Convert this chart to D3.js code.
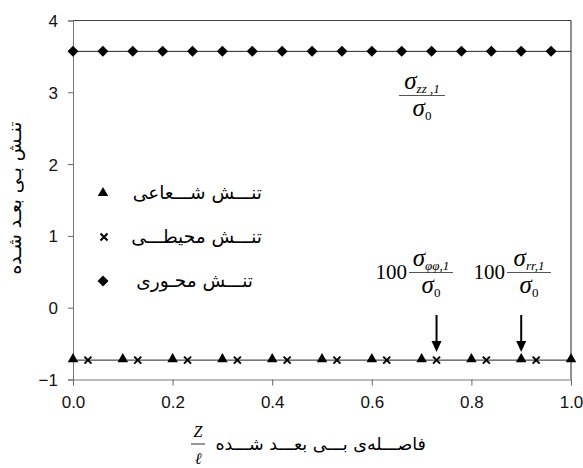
<!DOCTYPE html>
<html>
<head>
<meta charset="utf-8">
<script src="https://cdn.jsdelivr.net/npm/d3@7"></script>
<style>
  body { margin: 0; background: #fff; }
  svg { display: block; }
</style>
</head>
<body>
<svg width="583" height="468"></svg>
<script>
// radial stress (triangles), hoop stress (crosses), axial stress (diamonds)
const radialX = [0, 0.1, 0.2, 0.3, 0.4, 0.5, 0.6, 0.7, 0.8, 0.9, 1.0];
const radialY = [-0.73, -0.73, -0.73, -0.73, -0.73, -0.73, -0.73, -0.73, -0.73, -0.73, -0.73];
const hoopX = [0.03, 0.13, 0.23, 0.33, 0.43, 0.53, 0.63, 0.73, 0.83, 0.93];
const hoopY = [-0.73, -0.73, -0.73, -0.73, -0.73, -0.73, -0.73, -0.73, -0.73, -0.73];
const axialX = [0, 0.06, 0.12, 0.18, 0.24, 0.3, 0.36, 0.42, 0.48, 0.54, 0.6, 0.66, 0.72, 0.78, 0.84, 0.9, 0.96];
const axialY = [3.57, 3.57, 3.57, 3.57, 3.57, 3.57, 3.57, 3.57, 3.57, 3.57, 3.57, 3.57, 3.57, 3.57, 3.57, 3.57, 3.57];
const xTicks = [0, 0.2, 0.4, 0.6, 0.8, 1.0];
const yTicks = [-1, 0, 1, 2, 3, 4];
const legendLabels = ["تنـــش شـــعاعی", "تنـــش محیطـــی", "تنـــش محـوری"];
const arrowX = [0.73, 0.9];

const main = function() {
  const svg = d3.select("svg");
  const left = 73, right = 571, top = 20.5, bottom = 379.5;

  const x = d3.scaleLinear().domain([0, 1]).range([left, right]);
  const y = d3.scaleLinear().domain([-1, 4]).range([bottom, top]);

  // frame
  svg.append("line").attr("x1", left).attr("x2", right).attr("y1", top).attr("y2", top)
    .attr("stroke", "#444");
  svg.append("line").attr("x1", right).attr("x2", right).attr("y1", top).attr("y2", bottom)
    .attr("stroke", "#222");

  const xAxis = svg.append("g")
    .attr("transform", `translate(0,${bottom})`)
    .call(d3.axisBottom(x).tickValues(xTicks).tickFormat(d3.format(".1f")).tickSizeOuter(0).tickSize(6).tickPadding(10));
  const yAxis = svg.append("g")
    .attr("transform", `translate(${left},0)`)
    .call(d3.axisLeft(y).tickValues(yTicks).tickFormat(d3.format("d")).tickSizeOuter(0).tickSize(5).tickPadding(10));

  [xAxis, yAxis].forEach(a => {
    a.select(".domain").attr("stroke", "#777");
    a.selectAll(".tick line").attr("stroke", "#666");
    a.selectAll(".tick text")
      .attr("font-family", "Liberation Sans, Arial, sans-serif")
      .attr("font-size", 17)
      .attr("fill", "#111");
  });
  yAxis.selectAll(".tick text").attr("dy", "0.35em");

  // horizontal lines through the series
  const line = d3.line().x(d => x(d[0])).y(d => y(d[1]));
  svg.append("path")
    .attr("d", line([[0, radialY[0]], [1, radialY[radialY.length - 1]]]))
    .attr("stroke", "#222").attr("fill", "none");
  svg.append("path")
    .attr("d", line([[0, axialY[0]], [1, axialY[axialY.length - 1]]]))
    .attr("stroke", "#222").attr("fill", "none");

  const tri = d3.symbol().type(d3.symbolTriangle).size(48);
  const dia = "M0,-5.5L5.5,0L0,5.5L-5.5,0Z";
  const crossPath = "M-3.5,-3.5L3.5,3.5M-3.5,3.5L3.5,-3.5";

  svg.append("g").selectAll("path")
    .data(radialX.map((v, i) => [v, radialY[i]]))
    .join("path")
    .attr("d", tri)
    .attr("transform", d => `translate(${x(d[0])},${y(d[1]) - 1})`)
    .attr("fill", "#000");

  svg.append("g").selectAll("path")
    .data(hoopX.map((v, i) => [v, hoopY[i]]))
    .join("path")
    .attr("d", crossPath)
    .attr("transform", d => `translate(${x(d[0])},${y(d[1])})`)
    .attr("stroke", "#000").attr("stroke-width", 2);

  svg.append("g").selectAll("path")
    .data(axialX.map((v, i) => [v, axialY[i]]))
    .join("path")
    .attr("d", dia)
    .attr("transform", d => `translate(${x(d[0])},${y(d[1])})`)
    .attr("fill", "#000");

  // legend
  const legend = svg.append("g");
  const legendY = [193, 237, 281];
  legend.append("path").attr("d", tri).attr("transform", `translate(103,${legendY[0]})`).attr("fill", "#000");
  legend.append("path").attr("d", crossPath).attr("transform", `translate(104,${legendY[1]})`)
    .attr("stroke", "#000").attr("stroke-width", 2);
  legend.append("path").attr("d", dia).attr("transform", `translate(103,${legendY[2]})`).attr("fill", "#000");
  legend.selectAll("text")
    .data(legendLabels)
    .join("text")
    .attr("x", (d, i) => i === 2 ? 253 : 262)
    .attr("y", (d, i) => legendY[i])
    .attr("dy", "0.35em")
    .attr("direction", "rtl")
    .attr("text-anchor", "start")
    .attr("font-family", "DejaVu Sans, sans-serif")
    .attr("font-size", 18.5)
    .text(d => d);

  // axis titles
  svg.append("text")
    .attr("transform", "translate(15,198) rotate(-90)")
    .attr("text-anchor", "middle")
    .attr("dy", "0.35em")
    .attr("direction", "rtl")
    .attr("font-family", "DejaVu Sans, sans-serif")
    .attr("font-size", 18.5)
    .text("تنـش بـی بعـد شـده");

  svg.append("text")
    .attr("x", 426).attr("y", 444)
    .attr("direction", "rtl")
    .attr("text-anchor", "start")
    .attr("dy", "0.35em")
    .attr("font-family", "DejaVu Sans, sans-serif")
    .attr("font-size", 17.5)
    .text("فاصـــله‌ی بـــی بعـــد شـــده");

  const serif = "Liberation Serif, Times New Roman, serif";
  const frac = function(cx, lineY, halfW, numParts, denParts, numSize) {
    svg.append("line")
      .attr("x1", cx - halfW).attr("x2", cx + halfW).attr("y1", lineY).attr("y2", lineY)
      .attr("stroke", "#555").attr("stroke-width", 1.2);
    const n = svg.append("text").attr("x", cx).attr("y", lineY - 7)
      .attr("text-anchor", "middle").attr("font-family", serif).attr("font-style", "italic");
    numParts.forEach(p => n.append("tspan").attr("font-size", p[1]).attr("dy", p[2] || 0).text(p[0]));
    const dn = svg.append("text").attr("x", cx).attr("y", lineY + 20)
      .attr("text-anchor", "middle").attr("font-family", serif).attr("font-style", "italic");
    denParts.forEach(p => dn.append("tspan").attr("font-size", p[1]).attr("dy", p[2] || 0)
      .attr("font-style", p[3] || "italic").text(p[0]));
  };

  // Z / l
  frac(198, 444, 7, [["Z", 16]], [["ℓ", 16]]);

  // sigma_zz,1 / sigma_0
  frac(422, 95.5, 23, [["σ", 25], ["zz ,1", 13, 4]], [["σ", 25], ["0", 13, 4, "normal"]]);

  // 100 sigma_phiphi,1 / sigma_0 and 100 sigma_rr,1 / sigma_0
  const fracX = [431, 529];
  const subs = ["φφ,1", "rr,1"];
  fracX.forEach((cx, i) => {
    svg.append("text").attr("x", cx - 24).attr("y", 279)
      .attr("text-anchor", "end").attr("font-family", serif).attr("font-size", 21).text("100");
    frac(cx, 272.5, 22, [["σ", 25], [subs[i], 13, 4]], [["σ", 25], ["0", 13, 4, "normal"]]);
  });

  // arrows
  svg.append("g").selectAll("g")
    .data(arrowX)
    .join("g")
    .each(function(d) {
      const g = d3.select(this);
      const ax = x(d);
      g.append("line").attr("x1", ax).attr("x2", ax).attr("y1", 315).attr("y2", 345)
        .attr("stroke", "#000").attr("stroke-width", 2);
      g.append("path").attr("d", `M${ax - 5},${341}L${ax + 5},${341}L${ax},${352}Z`).attr("fill", "#000");
    });
};

window.onload = main;
</script>
</body>
</html>
